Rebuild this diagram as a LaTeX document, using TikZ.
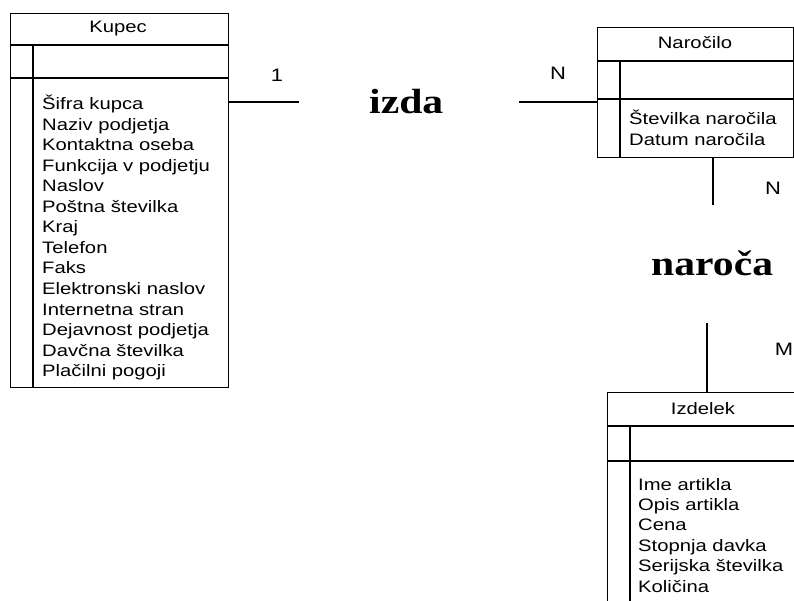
\documentclass[tikz,border=0pt]{standalone}
\usepackage{fontspec}
\newfontfamily\attrfont[FakeStretch=1.22]{Liberation Sans}
\newfontfamily\relfont[FakeStretch=1.19]{Liberation Serif}
\begin{document}
\begin{tikzpicture}[x=1pt,y=-1pt,
  entity/.style={draw, line width=1.2pt, anchor=north west, inner sep=0pt, fill=white},
  attr/.style={anchor=base west, inner sep=0pt, font=\attrfont\fontsize{16.6}{19}\selectfont},
  ttl/.style={anchor=base, inner sep=0pt, font=\attrfont\fontsize{16.6}{19}\selectfont},
  rel/.style={anchor=base west, inner sep=0pt, font=\relfont\bfseries\fontsize{35}{40}\selectfont},
  card/.style={anchor=base, inner sep=0pt, font=\attrfont\fontsize{18}{20}\selectfont},
  conn/.style={line width=1.7pt},
  sep/.style={line width=1.2pt}]
\useasboundingbox (0,0) rectangle (794,601);
\clip (0,0) rectangle (794,601);

% Kupec
\node[entity, minimum width=218pt, minimum height=374pt] (kupec) at (10,13) {};
\draw[sep] (10,45) -- (228,45);
\draw[sep] (10,78) -- (228,78);
\draw[sep] (33,45) -- (33,387);
\node[ttl] (kupec-t) at (118,33) {Kupec};
\foreach \t [count=\i] in {Šifra kupca, Naziv podjetja, Kontaktna oseba,
  Funkcija v podjetju, Naslov, Poštna številka, Kraj, Telefon, Faks,
  Elektronski naslov, Internetna stran, Dejavnost podjetja,
  Davčna številka, Plačilni pogoji}
  \node[attr] (kupec-a\i) at (42,{110+(\i-1)*20.5}) {\t};

% Naročilo
\node[entity, minimum width=196pt, minimum height=130pt] (narocilo) at (597,27) {};
\draw[sep] (597,61) -- (793,61);
\draw[sep] (597,99) -- (793,99);
\draw[sep] (620,61) -- (620,157);
\node[ttl] (narocilo-t) at (695,49) {Naročilo};
\node[attr] (narocilo-a1) at (629,125) {Številka naročila};
\node[attr] (narocilo-a2) at (629,146) {Datum naročila};

% Izdelek
\node[entity, minimum width=200pt, minimum height=230pt] (izdelek) at (607,392) {};
\draw[sep] (607,426) -- (800,426);
\draw[sep] (607,461) -- (800,461);
\draw[sep] (630,426) -- (630,610);
\node[ttl] (izdelek-t) at (703,414) {Izdelek};
\foreach \t [count=\i] in {Ime artikla, Opis artikla, Cena, Stopnja davka,
  Serijska številka, Količina}
  \node[attr] (izdelek-a\i) at (638,{490+(\i-1)*20.4}) {\t};

% Relationships
\node[rel] (izda) at (369,114) {izda};
\node[rel] (naroca) at (651,276) {naroča};

\coordinate (izdaL) at (299,102);
\coordinate (izdaR) at (519,102);
\coordinate (narocaT) at (713,205);
\coordinate (narocaB) at (707,323);

\draw[conn] (kupec.east |- izdaL) -- (izdaL);
\draw[conn] (izdaR) -- (narocilo.west |- izdaR);
\draw[conn] (narocilo.south -| narocaT) -- (narocaT);
\draw[sep] (narocaB) -- (izdelek.north -| narocaB);

% Cardinalities
\node[card] (c1) at (277,82) {1};
\node[card] (c2) at (558,80) {N};
\node[card] (c3) at (773,195) {N};
\node[card] (c4) at (784,355) {M};
\end{tikzpicture}
\end{document}
